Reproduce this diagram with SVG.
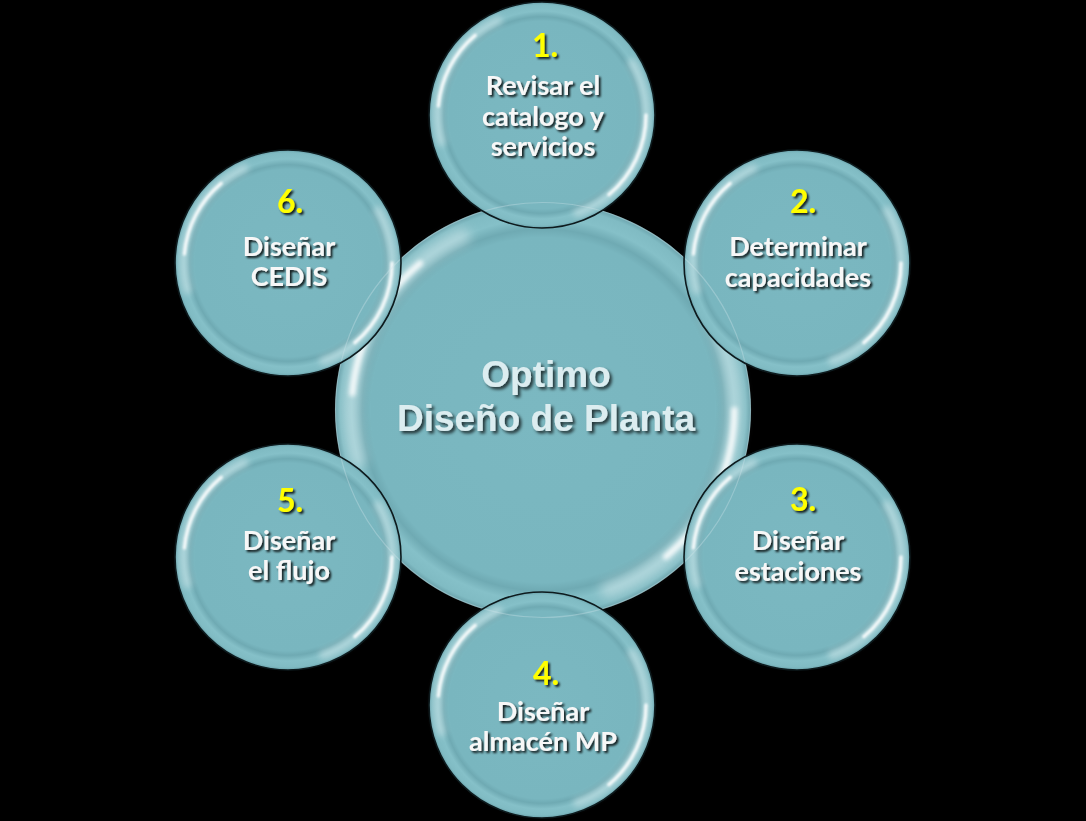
<svg xmlns="http://www.w3.org/2000/svg" xmlns:xlink="http://www.w3.org/1999/xlink" width="1086" height="821" viewBox="0 0 1086 821">
<style>
.lbl{font-family:Lato,"Liberation Sans",sans-serif;font-weight:bold;font-size:27px;fill:#f7f7f7;text-anchor:middle;filter:url(#sh)}
.num{font-family:Lato,"Liberation Sans",sans-serif;font-weight:bold;font-size:32px;fill:#ffff00;text-anchor:middle;filter:url(#sh)}
.ctr{font-family:"Liberation Sans",Arial,sans-serif;font-weight:bold;font-size:37px;fill:#dcedf0;text-anchor:middle;filter:url(#sh2)}
.edge{fill:none;stroke:#0d1a1d;stroke-width:1.6}
.cedge{fill:none;stroke:#d2e6ea;stroke-width:1.2;opacity:0.35}
</style>
<defs>
<radialGradient id="body" cx="0.5" cy="0.5" r="0.5">
<stop offset="0" stop-color="#7bb8c1"/>
<stop offset="0.83" stop-color="#79b6bf"/>
<stop offset="0.87" stop-color="#6faab3"/>
<stop offset="0.92" stop-color="#85c0c8"/>
<stop offset="0.975" stop-color="#80bbc3"/>
<stop offset="1" stop-color="#6aa2ab"/>
</radialGradient>
<filter id="b3" x="-20%" y="-20%" width="140%" height="140%"><feGaussianBlur stdDeviation="3"/></filter>
<filter id="b1" x="-20%" y="-20%" width="140%" height="140%"><feGaussianBlur stdDeviation="1.2"/></filter>
<filter id="sh" x="-10%" y="-30%" width="130%" height="170%"><feDropShadow dx="2" dy="2" stdDeviation="1.2" flood-color="#000" flood-opacity="0.85"/></filter>
<filter id="sh2" x="-10%" y="-30%" width="130%" height="170%"><feDropShadow dx="2.5" dy="2.5" stdDeviation="1.5" flood-color="#000" flood-opacity="0.7"/></filter>
<g id="bubble">
<circle r="113" fill="url(#body)"/>
<path d="M-100.46,26.92 A104,104 0 0 1 -43.95,-94.26" fill="none" stroke="#ffffff" stroke-width="9" stroke-linecap="round" opacity="0.35" filter="url(#b3)"/>
<path d="M-103.6,-9.06 A104,104 0 0 1 -66.85,-79.67" fill="none" stroke="#ffffff" stroke-width="3.5" stroke-linecap="round" opacity="0.85" filter="url(#b1)"/>
<path d="M90.07,-52 A104,104 0 0 1 35.57,97.73" fill="none" stroke="#ffffff" stroke-width="9" stroke-linecap="round" opacity="0.35" filter="url(#b3)"/>
<path d="M104,0 A104,104 0 0 1 66.85,79.67" fill="none" stroke="#ffffff" stroke-width="3.5" stroke-linecap="round" opacity="0.85" filter="url(#b1)"/>
</g>
</defs>
<rect x="0" y="0" width="1086" height="821" fill="#000"/>

<g id="center">
<use xlink:href="#bubble" transform="translate(543,410) scale(1.84)"/>
</g>

<g id="node1"><use xlink:href="#bubble" transform="translate(542,115)"/></g>
<g id="node2"><use xlink:href="#bubble" transform="translate(797,263)"/></g>
<g id="node3"><use xlink:href="#bubble" transform="translate(797,557)"/></g>
<g id="node4"><use xlink:href="#bubble" transform="translate(542,705)"/></g>
<g id="node5"><use xlink:href="#bubble" transform="translate(288,557)"/></g>
<g id="node6"><use xlink:href="#bubble" transform="translate(288,263)"/></g>

<g id="outlines">
<circle class="cedge" cx="543" cy="410" r="207.5"/>
<circle class="edge" cx="542" cy="115" r="113"/>
<circle class="edge" cx="797" cy="263" r="113"/>
<circle class="edge" cx="797" cy="557" r="113"/>
<circle class="edge" cx="542" cy="705" r="113"/>
<circle class="edge" cx="288" cy="557" r="113"/>
<circle class="edge" cx="288" cy="263" r="113"/>
</g>

<g id="labels">
<text class="ctr" x="546" y="387">Optimo</text>
<text class="ctr" x="546" y="431">Diseño de Planta</text>

<text class="num" x="545" y="57">1.</text>
<text class="lbl" x="543" y="95">Revisar el</text>
<text class="lbl" x="543" y="126">catalogo y</text>
<text class="lbl" x="543" y="156">servicios</text>

<text class="num" x="803" y="213">2.</text>
<text class="lbl" x="798" y="256">Determinar</text>
<text class="lbl" x="798" y="287">capacidades</text>

<text class="num" x="803" y="511">3.</text>
<text class="lbl" x="798" y="550">Diseñar</text>
<text class="lbl" x="798" y="581">estaciones</text>

<text class="num" x="546" y="685">4.</text>
<text class="lbl" x="543" y="721">Diseñar</text>
<text class="lbl" x="543" y="751">almacén MP</text>

<text class="num" x="290" y="512">5.</text>
<text class="lbl" x="289" y="550">Diseñar</text>
<text class="lbl" x="289" y="580">el flujo</text>

<text class="num" x="290" y="213">6.</text>
<text class="lbl" x="289" y="256">Diseñar</text>
<text class="lbl" x="289" y="286">CEDIS</text>
</g>
</svg>
